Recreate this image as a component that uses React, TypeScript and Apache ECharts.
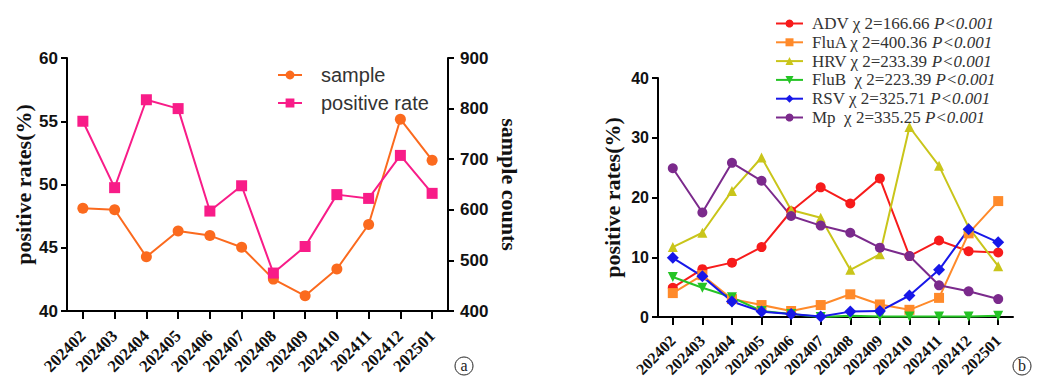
import React, { useEffect, useRef } from "react";
import * as echarts from "echarts";

const months = ["202402", "202403", "202404", "202405", "202406", "202407", "202408", "202409", "202410", "202411", "202412", "202501"];

// Panel (a)
const sampleCounts = [603, 600, 507, 558, 549, 526, 463, 430, 483, 571, 779, 698];
const positiveRate = [55.0, 49.75, 56.7, 56.0, 47.9, 49.9, 43.0, 45.1, 49.2, 48.9, 52.3, 49.3];

// Panel (b)
const pathogens = ["ADV", "FluA", "HRV", "FluB", "RSV", "Mp"];
const chiSquare = ["166.66", "400.36", "233.39", "223.39", "325.71", "335.25"];
const legendPrefix = ["ADV χ 2=", "FluA χ 2=", "HRV χ 2=", "FluB  χ 2=", "RSV χ 2=", "Mp  χ 2="];
const advRate = [4.9, 8.0, 9.1, 11.7, 17.7, 21.7, 19.0, 23.2, 10.2, 12.8, 11.0, 10.8];
const fluARate = [4.0, 7.0, 3.0, 2.0, 1.0, 2.0, 3.8, 2.1, 1.2, 3.2, 14.0, 19.4];
const hrvRate = [11.7, 14.1, 21.1, 26.7, 17.9, 16.6, 7.9, 10.5, 31.8, 25.3, 15.0, 8.5];
const fluBRate = [6.7, 4.9, 3.3, 1.0, 0.5, 0.0, 0.2, 0.1, 0.1, 0.1, 0.1, 0.2];
const rsvRate = [9.9, 6.8, 2.6, 0.9, 0.5, 0.1, 0.9, 1.0, 3.6, 7.9, 14.7, 12.5];
const mpRate = [24.9, 17.5, 25.8, 22.8, 16.9, 15.3, 14.1, 11.6, 10.2, 5.3, 4.3, 3.0];
const pathogenRates = [advRate, fluARate, hrvRate, fluBRate, rsvRate, mpRate];

const pathogenColors = ["#f71b1b", "#ff8a2a", "#c9c51a", "#25c425", "#1717e8", "#7b2a8c"];
const pathogenSymbols = ["circle", "rect", "triangle", "triangle", "diamond", "circle"];
const pathogenRotate = [0, 0, 0, 180, 0, 0];

const SANS = "'Liberation Sans', Arial, sans-serif";
const SERIF = "'Liberation Serif', 'Times New Roman', serif";

export default function App() {
  const ref = useRef<HTMLDivElement>(null);

  useEffect(() => {
    if (!ref.current) return;
    const chart = echarts.init(ref.current, undefined, { renderer: "svg" });

    const axisLine = { show: true, lineStyle: { color: "#000", width: 2 } };
    const axisTick = { show: true, length: 6, lineStyle: { color: "#000", width: 2 } };
    const yLabel = { color: "#111", fontFamily: SANS, fontWeight: "bold" as const, fontSize: 17 };
    const xLabelBase = {
      color: "#111",
      fontFamily: SERIF,
      fontWeight: "bold" as const,
      rotate: 45,
      interval: 0,
    };
    const axisName = { color: "#111", fontFamily: SERIF, fontWeight: "bold" as const, fontSize: 22 };

    const rich = {
      n: { fontFamily: SERIF, fontSize: 17, color: "#333", lineHeight: 17 },
      p: { fontFamily: SERIF, fontSize: 17, color: "#333", fontStyle: "italic" as const, lineHeight: 17 },
    };

    chart.setOption({
      animation: false,
      backgroundColor: "#fff",
      grid: [
        { left: 67, right: 591, top: 58, bottom: 70, containLabel: false, outerBoundsMode: "none" },
        { left: 658, right: 26, top: 78, bottom: 64, containLabel: false, outerBoundsMode: "none" },
      ],
      xAxis: [
        {
          type: "category",
          gridIndex: 0,
          data: months,
          boundaryGap: true,
          axisLine,
          axisTick: { ...axisTick, alignWithLabel: true, length: 8 },
          axisLabel: { ...xLabelBase, fontSize: 17, margin: 22 },
          splitLine: { show: false },
        },
        {
          type: "category",
          gridIndex: 1,
          data: months,
          boundaryGap: true,
          axisLine,
          axisTick: { ...axisTick, alignWithLabel: true, length: 8 },
          axisLabel: { ...xLabelBase, fontSize: 16, margin: 21 },
          splitLine: { show: false },
        },
      ],
      yAxis: [
        {
          type: "value",
          gridIndex: 0,
          position: "left",
          min: 40,
          max: 60,
          interval: 5,
          name: "positive rates(%)",
          nameLocation: "middle",
          nameGap: 33,
          nameRotate: 90,
          nameTextStyle: axisName,
          axisLine,
          axisTick,
          axisLabel: { ...yLabel, margin: 9 },
          splitLine: { show: false },
        },
        {
          type: "value",
          gridIndex: 0,
          position: "right",
          min: 400,
          max: 900,
          interval: 100,
          name: "sample counts",
          nameLocation: "middle",
          nameGap: 50,
          nameRotate: -90,
          nameTextStyle: axisName,
          axisLine,
          axisTick,
          axisLabel: { ...yLabel, margin: 12 },
          splitLine: { show: false },
        },
        {
          type: "value",
          gridIndex: 1,
          position: "left",
          min: 0,
          max: 40,
          interval: 10,
          name: "positive rates(%)",
          nameLocation: "middle",
          nameGap: 35,
          nameRotate: 90,
          nameTextStyle: axisName,
          axisLine,
          axisTick,
          axisLabel: { ...yLabel, fontSize: 16, margin: 9 },
          splitLine: { show: false },
        },
      ],
      legend: [
        {
          data: ["sample", "positive rate"],
          orient: "vertical",
          left: 272,
          top: 60,
          itemGap: 8,
          itemWidth: 24,
          itemHeight: 11,
          textStyle: { fontFamily: SANS, fontSize: 20, color: "#333", padding: [0, 0, 0, 14] },
        },
        {
          data: pathogens,
          orient: "vertical",
          left: 770,
          top: 10,
          itemGap: 1.8,
          itemWidth: 27,
          itemHeight: 10,
          formatter: (name: string) => {
            const i = pathogens.indexOf(name);
            return `{n|${legendPrefix[i]}${chiSquare[i]} }{p|P<0.001}`;
          },
          textStyle: { rich, padding: [0, 0, 0, 4] },
        },
      ],
      series: [
        {
          name: "sample",
          type: "line",
          xAxisIndex: 0,
          yAxisIndex: 1,
          data: sampleCounts,
          symbol: "circle",
          symbolSize: 11,
          color: "#fb6a1e",
          lineStyle: { width: 2 },
        },
        {
          name: "positive rate",
          type: "line",
          xAxisIndex: 0,
          yAxisIndex: 0,
          data: positiveRate,
          symbol: "rect",
          symbolSize: 11,
          color: "#f81c88",
          lineStyle: { width: 2 },
        },
        ...pathogens.map((p, i) => ({
          name: p,
          type: "line",
          xAxisIndex: 1,
          yAxisIndex: 2,
          data: pathogenRates[i],
          symbol: pathogenSymbols[i],
          symbolRotate: pathogenRotate[i],
          symbolSize: pathogenSymbols[i] === "diamond" ? 12 : 10,
          color: pathogenColors[i],
          lineStyle: { width: 2 },
        })),
      ],
      graphic: [
        { type: "circle", shape: { cx: 464, cy: 366, r: 9 }, style: { fill: "none", stroke: "#222", lineWidth: 1 } },
        {
          type: "text",
          x: 464,
          y: 365,
          style: { text: "a", fontFamily: SERIF, fontSize: 16, fill: "#222", align: "center", verticalAlign: "middle" },
        },
        { type: "circle", shape: { cx: 1022, cy: 366, r: 9 }, style: { fill: "none", stroke: "#222", lineWidth: 1 } },
        {
          type: "text",
          x: 1022,
          y: 365,
          style: { text: "b", fontFamily: SERIF, fontSize: 16, fill: "#222", align: "center", verticalAlign: "middle" },
        },
      ],
    });

    return () => chart.dispose();
  }, []);

  return (
    <div
      ref={ref}
      style={{ position: "fixed", left: 0, top: 0, width: 1039, height: 381, background: "#fff" }}
    />
  );
}
